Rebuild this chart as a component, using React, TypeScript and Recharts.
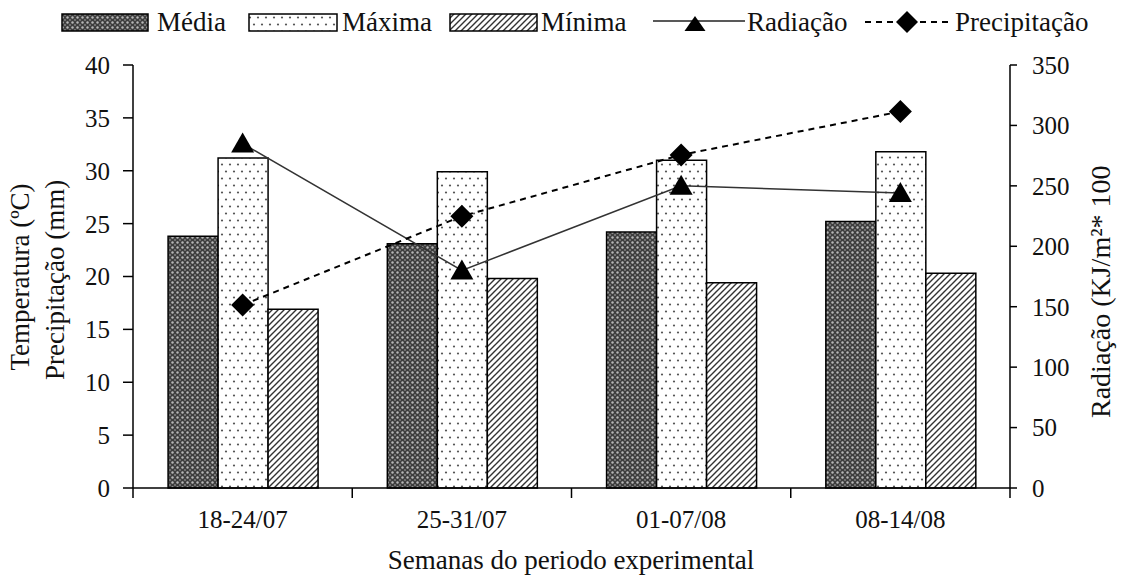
import React from "react";
import { ComposedChart, Bar, Line, XAxis, YAxis } from "recharts";

const W = 1121;
const H = 577;
const FONT = '"Liberation Serif", "Times New Roman", serif';

// data
const weeks = ["18-24/07", "25-31/07", "01-07/08", "08-14/08"];
const media = [23.8, 23.1, 24.2, 25.2];
const maxima = [31.2, 29.9, 31.0, 31.8];
const minima = [16.9, 19.8, 19.4, 20.3];
const radiacao = [285, 180, 250, 244];
const precipitacao = [17.3, 25.7, 31.5, 35.6];

const leftTicks = [0, 5, 10, 15, 20, 25, 30, 35, 40];
const rightTicks = [0, 50, 100, 150, 200, 250, 300, 350];

const data = weeks.map((week, i) => ({
  week,
  media: media[i],
  maxima: maxima[i],
  minima: minima[i],
  radiacao: radiacao[i],
  precipitacao: precipitacao[i],
}));

const LEFT_W = 133;
const RIGHT_W = 111;
const BAND = (W - LEFT_W - RIGHT_W) / weeks.length;

function WeekTick(props: any) {
  const { x, y, payload, index } = props;
  const half = BAND / 2;
  const y0 = y - 22;
  return (
    <g>
      <line x1={x - half} x2={x - half} y1={y0} y2={y0 + 10} stroke="#000" strokeWidth={1.5} />
      {index === weeks.length - 1 && (
        <line x1={x + half} x2={x + half} y1={y0} y2={y0 + 10} stroke="#000" strokeWidth={1.5} />
      )}
      <text x={x} y={y} dy="0.71em" textAnchor="middle" fontSize={25} fontFamily={FONT} fill="#111">
        {payload.value}
      </text>
    </g>
  );
}

function TriangleDot(props: any) {
  const { cx, cy } = props;
  if (cx == null || cy == null) return null;
  return <polygon points={`${cx},${cy - 11} ${cx - 11.5},${cy + 9} ${cx + 11.5},${cy + 9}`} fill="#000" />;
}

function DiamondDot(props: any) {
  const { cx, cy } = props;
  if (cx == null || cy == null) return null;
  return <polygon points={`${cx},${cy - 11.5} ${cx + 11.5},${cy} ${cx},${cy + 11.5} ${cx - 11.5},${cy}`} fill="#000" />;
}

function Patterns() {
  return (
    <defs>
      <pattern id="pMedia" width="5" height="5" patternUnits="userSpaceOnUse">
        <rect width="5" height="5" fill="#3e3e3e" />
        <circle cx="2.5" cy="2.5" r="1.2" fill="#b8b8b8" />
        <circle cx="0" cy="0" r="0.9" fill="#8a8a8a" />
        <circle cx="5" cy="0" r="0.9" fill="#8a8a8a" />
        <circle cx="0" cy="5" r="0.9" fill="#8a8a8a" />
        <circle cx="5" cy="5" r="0.9" fill="#8a8a8a" />
      </pattern>
      <pattern id="pMaxima" width="8" height="14" patternUnits="userSpaceOnUse">
        <rect width="8" height="14" fill="#fff" />
        <circle cx="2" cy="3.5" r="1.1" fill="#555" />
        <circle cx="6" cy="10.5" r="1.1" fill="#555" />
      </pattern>
      <pattern id="pMinima" width="6" height="6" patternUnits="userSpaceOnUse">
        <rect width="6" height="6" fill="#fff" />
        <path d="M0,6 L6,0 M-1.5,1.5 L1.5,-1.5 M4.5,7.5 L7.5,4.5" stroke="#333" strokeWidth="1.4" />
      </pattern>
    </defs>
  );
}

function Overlay() {
  const swY = 14;
  const swH = 17;
  const tY = 31;
  return (
    <svg
      width={W}
      height={H}
      style={{ position: "absolute", left: 0, top: 0, pointerEvents: "none" }}
      fontFamily={FONT}
      fill="#111"
    >
      {/* legend */}
      <rect x={62} y={swY} width={86} height={swH} fill="url(#pMedia)" stroke="#000" strokeWidth={1.5} />
      <text x={157} y={tY} fontSize={27}>Média</text>
      <rect x={249} y={swY} width={88} height={swH} fill="url(#pMaxima)" stroke="#000" strokeWidth={1.5} />
      <text x={342} y={tY} fontSize={27}>Máxima</text>
      <rect x={450} y={swY} width={87} height={swH} fill="url(#pMinima)" stroke="#000" strokeWidth={1.5} />
      <text x={541} y={tY} fontSize={27}>Mínima</text>
      <line x1={653} x2={745} y1={21} y2={21} stroke="#222" strokeWidth={1.5} />
      <polygon points="695,16 684.5,31 705.5,31" fill="#000" />
      <text x={747} y={tY} fontSize={27}>Radiação</text>
      <line x1={865} x2={950} y1={22} y2={22} stroke="#000" strokeWidth={2} strokeDasharray="6 5" />
      <polygon points="907,11 918,22 907,33 896,22" fill="#000" />
      <text x={955} y={tY} fontSize={27}>Precipitação</text>

      {/* axis titles */}
      <text transform="translate(29,277) rotate(-90)" textAnchor="middle" fontSize={27}>
        Temperatura (ºC)
      </text>
      <text transform="translate(64,380) rotate(-90)" fontSize={27}>
        Precipitação (mm)
      </text>
      <text transform="translate(1110,418) rotate(-90)" fontSize={28}>
        Radiação (KJ/m²* 100
      </text>
      <text x={571} y={569} textAnchor="middle" fontSize={27}>
        Semanas do periodo experimental
      </text>
    </svg>
  );
}

const axisLine = { stroke: "#000", strokeWidth: 1.5 };
const tickStyle = { fontSize: 25, fontFamily: FONT, fill: "#111" };

export default function App() {
  return (
    <div style={{ position: "absolute", left: 0, top: 0, width: W, height: H, background: "#fff" }}>
      <ComposedChart
        width={W}
        height={H}
        data={data}
        margin={{ top: 65, right: 0, bottom: 0, left: 0 }}
        barCategoryGap="16%"
        barGap={0}
      >
        <Patterns />
        <XAxis
          dataKey="week"
          height={89}
          axisLine={axisLine}
          tickLine={false}
          tickSize={10}
          tickMargin={12}
          tick={<WeekTick />}
          interval={0}
        />
        <YAxis
          yAxisId="t"
          width={LEFT_W}
          domain={[0, 40]}
          ticks={leftTicks}
          interval={0}
          axisLine={axisLine}
          tickLine={{ stroke: "#000", strokeWidth: 1.5 }}
          tickSize={10}
          tickMargin={13}
          tick={tickStyle}
        />
        <YAxis
          yAxisId="r"
          orientation="right"
          width={RIGHT_W}
          domain={[0, 350]}
          ticks={rightTicks}
          interval={0}
          axisLine={axisLine}
          tickLine={{ stroke: "#000", strokeWidth: 1.5 }}
          tickSize={7}
          tickMargin={15}
          tick={tickStyle}
        />
        <Bar yAxisId="t" dataKey="media" fill="url(#pMedia)" stroke="#000" strokeWidth={1.5} isAnimationActive={false} />
        <Bar yAxisId="t" dataKey="maxima" fill="url(#pMaxima)" stroke="#000" strokeWidth={1.5} isAnimationActive={false} />
        <Bar yAxisId="t" dataKey="minima" fill="url(#pMinima)" stroke="#000" strokeWidth={1.5} isAnimationActive={false} />
        <Line
          yAxisId="r"
          type="linear"
          dataKey="radiacao"
          stroke="#333"
          strokeWidth={1.5}
          dot={<TriangleDot />}
          activeDot={false}
          isAnimationActive={false}
        />
        <Line
          yAxisId="t"
          type="linear"
          dataKey="precipitacao"
          stroke="#000"
          strokeWidth={2}
          strokeDasharray="6 5"
          dot={<DiamondDot />}
          activeDot={false}
          isAnimationActive={false}
        />
      </ComposedChart>
      <Overlay />
    </div>
  );
}
